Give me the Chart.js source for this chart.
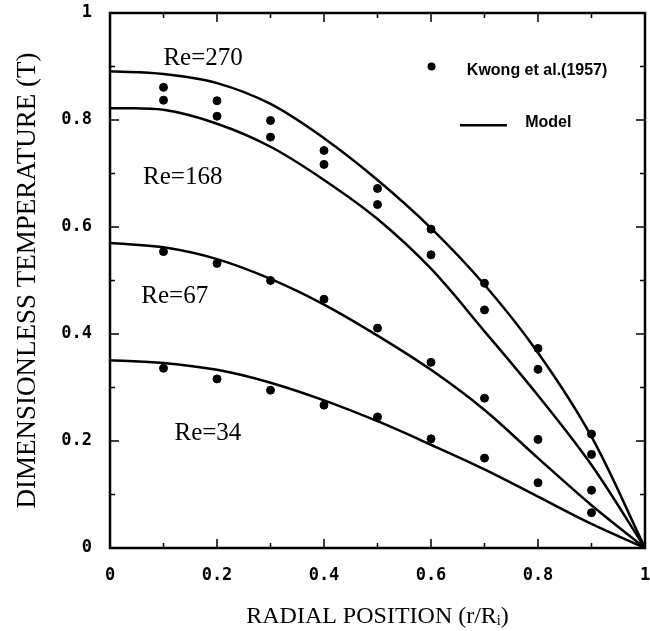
<!DOCTYPE html>
<html>
<head>
<meta charset="utf-8">
<script src="https://cdn.jsdelivr.net/npm/chart.js@4.4.0/dist/chart.umd.min.js"></script>
<style>
    html, body { margin: 0; padding: 0; background: #fff; }
</style>
</head>
<body>
<canvas id="tempChart" width="650" height="631"></canvas>
<script>
// Model curves
const radialPos = [0, 0.1, 0.2, 0.3, 0.4, 0.5, 0.6, 0.7, 0.8, 0.9, 1.0];
const modelRe270 = [0.891, 0.886, 0.869, 0.830, 0.766, 0.688, 0.598, 0.492, 0.365, 0.208, 0];
const modelRe168 = [0.822, 0.819, 0.793, 0.750, 0.688, 0.615, 0.522, 0.405, 0.285, 0.155, 0];
const modelRe67 = [0.570, 0.562, 0.540, 0.503, 0.455, 0.397, 0.333, 0.258, 0.168, 0.080, 0];
const modelRe34 = [0.351, 0.346, 0.333, 0.309, 0.276, 0.237, 0.193, 0.147, 0.096, 0.045, 0];

// Kwong et al. (1957) measurements
const expPos = [0.1, 0.2, 0.3, 0.4, 0.5, 0.6, 0.7, 0.8, 0.9];
const expRe270 = [0.861, 0.836, 0.799, 0.743, 0.672, 0.596, 0.495, 0.373, 0.213];
const expRe168 = [0.837, 0.807, 0.768, 0.717, 0.642, 0.548, 0.445, 0.334, 0.175];
const expRe67 = [0.554, 0.532, 0.500, 0.465, 0.411, 0.347, 0.280, 0.203, 0.108];
const expRe34 = [0.336, 0.316, 0.295, 0.267, 0.245, 0.204, 0.168, 0.122, 0.066];

// Curve labels and their anchor (data coords)
const reLabels = ['Re=270', 'Re=168', 'Re=67', 'Re=34'];
const reLabelX = [0.174, 0.136, 0.121, 0.183];
const reLabelY = [0.916, 0.693, 0.471, 0.215];

const axisTicks = [0, 0.1, 0.2, 0.3, 0.4, 0.5, 0.6, 0.7, 0.8, 0.9, 1.0];

const SERIF = '"Liberation Serif", "Times New Roman", serif';
const MONO = '"DejaVu Sans Mono", "Liberation Mono", monospace';
const SANS = '"Liberation Sans", Arial, sans-serif';

function toPoints(xs, ys) {
    return xs.map((x, i) => ({ x: x, y: ys[i] }));
}

function modelSet(ys) {
    return {
        type: 'line',
        data: toPoints(radialPos, ys),
        borderColor: '#000',
        borderWidth: 2.5,
        pointRadius: 0,
        tension: 0.35,
        fill: false
    };
}

function expSet(ys) {
    return {
        type: 'scatter',
        data: toPoints(expPos, ys),
        backgroundColor: '#000',
        borderColor: '#000',
        pointRadius: 4,
        pointHoverRadius: 4
    };
}

function tickLabel(v) {
    return (v === 0 || v === 1) ? String(v) : v.toFixed(1);
}

// keep the plot box where the original has it
function noScalePadding(scale) {
    scale.paddingTop = 0;
    scale.paddingBottom = 0;
    scale.paddingLeft = 0;
    scale.paddingRight = 0;
}

// Frame, inward ticks, curve labels and legend
const decorPlugin = {
    id: 'decor',
    afterDraw(chart) {
        const ctx = chart.ctx;
        const area = chart.chartArea;
        const xs = chart.scales.x;
        const ys = chart.scales.y;

        ctx.save();
        ctx.strokeStyle = '#000';
        ctx.lineWidth = 1.5;
        axisTicks.forEach((v, i) => {
            const len = i % 2 === 0 ? 9 : 5;
            const px = xs.getPixelForValue(v);
            const py = ys.getPixelForValue(v);
            ctx.beginPath();
            ctx.moveTo(px, area.bottom); ctx.lineTo(px, area.bottom - len);
            ctx.moveTo(px, area.top); ctx.lineTo(px, area.top + len);
            ctx.moveTo(area.left, py); ctx.lineTo(area.left + len, py);
            ctx.moveTo(area.right, py); ctx.lineTo(area.right - len, py);
            ctx.stroke();
        });

        ctx.lineWidth = 2.5;
        ctx.strokeRect(area.left, area.top, area.right - area.left, area.bottom - area.top);

        // Re labels
        ctx.fillStyle = '#000';
        ctx.font = '25px ' + SERIF;
        ctx.textAlign = 'center';
        ctx.textBaseline = 'middle';
        reLabels.forEach((t, i) => {
            ctx.fillText(t, xs.getPixelForValue(reLabelX[i]), ys.getPixelForValue(reLabelY[i]));
        });

        // legend
        ctx.font = 'bold 16px ' + SANS;
        ctx.textAlign = 'left';
        ctx.beginPath();
        ctx.arc(xs.getPixelForValue(0.601), ys.getPixelForValue(0.900), 4, 0, Math.PI * 2);
        ctx.fill();
        ctx.fillText('Kwong et al.(1957)', xs.getPixelForValue(0.667), ys.getPixelForValue(0.893));
        ctx.beginPath();
        ctx.lineWidth = 2.5;
        ctx.moveTo(xs.getPixelForValue(0.654), ys.getPixelForValue(0.79));
        ctx.lineTo(xs.getPixelForValue(0.742), ys.getPixelForValue(0.79));
        ctx.stroke();
        ctx.fillText('Model', xs.getPixelForValue(0.776), ys.getPixelForValue(0.796));
        ctx.restore();
    }
};

const ctx = document.getElementById('tempChart').getContext('2d');
const tempChart = new Chart(ctx, {
    data: {
        datasets: [
            modelSet(modelRe270),
            modelSet(modelRe168),
            modelSet(modelRe67),
            modelSet(modelRe34),
            expSet(expRe270),
            expSet(expRe168),
            expSet(expRe67),
            expSet(expRe34)
        ]
    },
    options: {
        responsive: false,
        animation: false,
        layout: { padding: { top: 13, right: 5, left: 0, bottom: 0 } },
        plugins: {
            legend: { display: false },
            tooltip: { enabled: false }
        },
        scales: {
            x: {
                type: 'linear',
                min: 0,
                max: 1,
                grid: { display: false, drawTicks: false },
                border: { display: false },
                ticks: {
                    stepSize: 0.2,
                    padding: 17,
                    color: '#000',
                    font: { family: MONO, size: 17, weight: 'bold' },
                    callback: tickLabel
                },
                title: {
                    display: true,
                    text: 'RADIAL POSITION (r/R\u1D62)',
                    color: '#000',
                    font: { family: SERIF, size: 24 },
                    padding: { top: 0, bottom: 0 }
                },
                afterFit(scale) {
                    scale.height = 83;
                    noScalePadding(scale);
                }
            },
            y: {
                type: 'linear',
                min: 0,
                max: 1,
                grid: { display: false, drawTicks: false },
                border: { display: false },
                ticks: {
                    stepSize: 0.2,
                    padding: 18,
                    color: '#000',
                    font: { family: MONO, size: 17, weight: 'bold' },
                    callback: tickLabel
                },
                title: {
                    display: true,
                    text: 'DIMENSIONLESS TEMPERATURE (T)',
                    color: '#000',
                    font: { family: SERIF, size: 27 },
                    padding: { top: 12, bottom: 0 }
                },
                afterFit(scale) {
                    scale.width = 110;
                    noScalePadding(scale);
                }
            }
        }
    },
    plugins: [decorPlugin]
});
</script>
</body>
</html>
